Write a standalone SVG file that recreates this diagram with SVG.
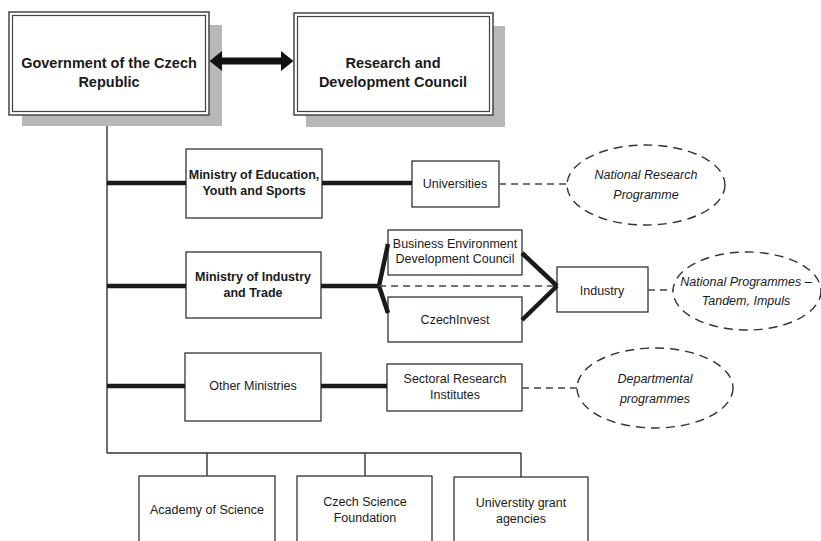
<svg xmlns="http://www.w3.org/2000/svg" width="821" height="541" viewBox="0 0 821 541">
<defs>
<style>
text{font-family:"Liberation Sans",Arial,sans-serif;fill:#1a1a1a;text-anchor:middle}
.t{font-size:12.5px}
.tb{font-size:12.5px;font-weight:bold}
.big{font-size:14.5px;font-weight:bold}
.it{font-size:12.5px;font-style:italic}
.box{fill:#fff;stroke:#333;stroke-width:1.3}
.shadow{fill:#b8b8b8}
.thick{stroke:#1a1a1a;stroke-width:4.5;fill:none}
.thin{stroke:#333;stroke-width:1.4;fill:none}
.dash{stroke:#444;stroke-width:1.3;fill:none;stroke-dasharray:7 5}
.ell{fill:#fff;stroke:#333;stroke-width:1.4;stroke-dasharray:9 6}
</style>
</defs>
<rect width="821" height="541" fill="#fff"/>
<g id="gov">
<rect class="shadow" x="22" y="25" width="200" height="101"/>
<rect x="9" y="12" width="200" height="103" fill="#fff" stroke="#444" stroke-width="1.5"/>
<rect x="12.5" y="15.5" width="193" height="96" fill="none" stroke="#444" stroke-width="1.2"/>
<text class="big" x="109" y="68">Government of the Czech</text>
<text class="big" x="109" y="87">Republic</text>
</g>
<g id="rdc">
<rect class="shadow" x="306" y="26" width="199" height="101"/>
<rect x="294" y="13" width="199" height="102" fill="#fff" stroke="#444" stroke-width="1.5"/>
<rect x="297.5" y="16.5" width="192" height="95" fill="none" stroke="#444" stroke-width="1.2"/>
<text class="big" x="393" y="68">Research and</text>
<text class="big" x="393" y="87">Development Council</text>
</g>
<g id="moe">
<rect class="box" x="186" y="149" width="136" height="69"/>
<text class="tb" x="254" y="179">Ministry of Education,</text>
<text class="tb" x="254" y="195">Youth and Sports</text>
</g>
<g id="universities">
<rect class="box" x="412" y="161" width="87" height="46"/>
<text class="t" x="455" y="188">Universities</text>
</g>
<g id="nrp">
<ellipse class="ell" cx="646" cy="185" rx="79" ry="40"/>
<text class="it" x="646" y="179">National Research</text>
<text class="it" x="646" y="199">Programme</text>
</g>
<g id="mit">
<rect class="box" x="186" y="252" width="135" height="66"/>
<text class="tb" x="253" y="281">Ministry of Industry</text>
<text class="tb" x="253" y="297">and Trade</text>
</g>
<g id="bedc">
<rect class="box" x="388" y="230" width="134" height="45"/>
<text class="t" x="455" y="248">Business Environment</text>
<text class="t" x="455" y="263">Development Council</text>
</g>
<g id="czechinvest">
<rect class="box" x="388" y="297" width="134" height="45"/>
<text class="t" x="455" y="324">CzechInvest</text>
</g>
<g id="industry">
<rect class="box" x="557" y="267" width="91" height="45"/>
<text class="t" x="602" y="295">Industry</text>
</g>
<g id="np">
<ellipse class="ell" cx="747" cy="291" rx="74" ry="39"/>
<text class="it" x="746" y="286">National Programmes –</text>
<text class="it" x="746" y="305">Tandem, Impuls</text>
</g>
<g id="other">
<rect class="box" x="185" y="353" width="136" height="68"/>
<text class="t" x="253" y="390">Other Ministries</text>
</g>
<g id="sri">
<rect class="box" x="387" y="364" width="135" height="47"/>
<text class="t" x="455" y="383">Sectoral Research</text>
<text class="t" x="455" y="399">Institutes</text>
</g>
<g id="dp">
<ellipse class="ell" cx="655" cy="388" rx="78" ry="40"/>
<text class="it" x="655" y="383">Departmental</text>
<text class="it" x="655" y="403">programmes</text>
</g>
<g id="academy">
<rect class="box" x="139" y="476" width="136" height="70"/>
<text class="t" x="207" y="514">Academy of Science</text>
</g>
<g id="csf">
<rect class="box" x="297" y="476" width="135" height="70"/>
<text class="t" x="365" y="506">Czech Science</text>
<text class="t" x="365" y="522">Foundation</text>
</g>
<g id="uga">
<rect class="box" x="454" y="477" width="134" height="70"/>
<text class="t" x="521" y="507">Universtity grant</text>
<text class="t" x="521" y="523">agencies</text>
</g>
<g id="connectors">
<line class="thin" x1="107" y1="126" x2="107" y2="453"/>
<polyline class="thin" points="107,453 521,453"/>
<line class="thin" x1="207" y1="453" x2="207" y2="476"/>
<line class="thin" x1="365" y1="453" x2="365" y2="476"/>
<line class="thin" x1="521" y1="453" x2="521" y2="477"/>
<line class="thick" x1="107" y1="183" x2="186" y2="183"/>
<line class="thick" x1="107" y1="286" x2="186" y2="286"/>
<line class="thick" x1="107" y1="386" x2="185" y2="386"/>
<line class="thick" x1="322" y1="183" x2="412" y2="183"/>
<line class="thick" x1="321" y1="386" x2="387" y2="386"/>
<line class="thick" x1="321" y1="286" x2="379" y2="286"/>
<polyline class="thick" points="388,244 379,286 388,313"/>
<line class="thick" x1="522" y1="253" x2="557" y2="286"/>
<line class="thick" x1="522" y1="320" x2="557" y2="286"/>
<line class="dash" x1="379" y1="286" x2="557" y2="286"/>
<line class="dash" x1="499" y1="184" x2="567" y2="184"/>
<line class="dash" x1="648" y1="290" x2="673" y2="290"/>
<line class="dash" x1="522" y1="388" x2="577" y2="388"/>
<path d="M209.5,61 L222,51 L222,57.5 L281,57.5 L281,51 L293.5,61 L281,71 L281,64.5 L222,64.5 L222,71 Z" fill="#111"/>
</g>
</svg>
